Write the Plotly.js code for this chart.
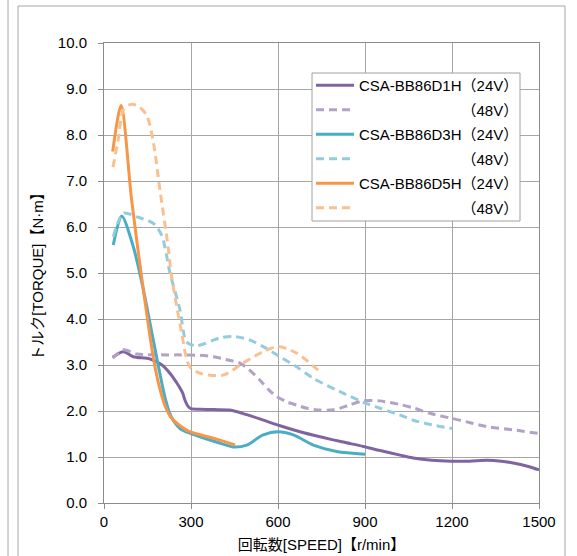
<!DOCTYPE html>
<html>
<head>
<meta charset="utf-8">
<script src="https://cdn.plot.ly/plotly-3.0.1.min.js"></script>
<style>html,body{margin:0;padding:0;background:#fff;}#chart{width:577px;height:556px;}</style>
</head>
<body>
<div id="chart"></div>
<script>
// ---- data (speed r/min, torque N·m) ----
const seriesNames = ["CSA-BB86D1H\uFF0824V\uFF09", "\u3000\u3000\u3000\u3000\u3000\u3000\u00A0\u00A0\u00A0\uFF0848V\uFF09",
                     "CSA-BB86D3H\uFF0824V\uFF09", "\u3000\u3000\u3000\u3000\u3000\u3000\u00A0\u00A0\u00A0\uFF0848V\uFF09",
                     "CSA-BB86D5H\uFF0824V\uFF09", "\u3000\u3000\u3000\u3000\u3000\u3000\u00A0\u00A0\u00A0\uFF0848V\uFF09"];

const d1h24_x = [30, 67, 101, 159, 200, 230, 250, 262, 272, 279, 290, 300, 331, 380, 434, 492, 550, 607, 676, 745, 820, 894, 952, 1021, 1066, 1130, 1199, 1260, 1320, 1370, 1411, 1460, 1500];
const d1h24_y = [3.17, 3.29, 3.18, 3.13, 3.0, 2.8, 2.62, 2.5, 2.38, 2.24, 2.1, 2.05, 2.04, 2.03, 2.02, 1.92, 1.8, 1.68, 1.55, 1.44, 1.33, 1.23, 1.14, 1.04, 0.98, 0.93, 0.91, 0.91, 0.93, 0.91, 0.87, 0.8, 0.72];

const d1h48_x = [30, 67, 113, 216, 262, 331, 377, 420, 469, 500, 538, 570, 596, 630, 664, 700, 745, 780, 814, 850, 894, 950, 1021, 1070, 1124, 1199, 1260, 1320, 1411, 1500];
const d1h48_y = [3.15, 3.33, 3.24, 3.22, 3.22, 3.21, 3.18, 3.12, 3.04, 2.9, 2.67, 2.45, 2.31, 2.2, 2.13, 2.06, 2.02, 2.02, 2.06, 2.14, 2.22, 2.22, 2.14, 2.06, 1.95, 1.84, 1.75, 1.66, 1.59, 1.51];

const d3h24_x = [32, 61, 101, 136, 170, 190, 210, 230, 262, 296, 331, 390, 445, 492, 549, 600, 653, 722, 802, 900];
const d3h24_y = [5.61, 6.24, 5.57, 4.63, 3.54, 2.9, 2.3, 1.9, 1.62, 1.52, 1.44, 1.32, 1.22, 1.26, 1.48, 1.55, 1.48, 1.26, 1.12, 1.06];

const d3h48_x = [32, 67, 113, 170, 199, 228, 262, 285, 320, 400, 445, 500, 549, 607, 664, 722, 814, 906, 952, 1021, 1066, 1130, 1200];
const d3h48_y = [5.79, 6.30, 6.22, 6.08, 5.82, 4.99, 4.2, 3.50, 3.42, 3.59, 3.62, 3.55, 3.40, 3.18, 2.96, 2.71, 2.42, 2.16, 2.06, 1.91, 1.80, 1.70, 1.62];

const d5h24_x = [30, 59, 95, 130, 170, 190, 210, 230, 262, 296, 376, 452];
const d5h24_y = [7.64, 8.64, 6.6, 4.9, 3.17, 2.55, 2.12, 1.87, 1.68, 1.55, 1.41, 1.26];

const d5h48_x = [31, 49, 67, 95, 120, 147, 169, 193, 221, 233, 250, 268, 283, 296, 331, 411, 479, 549, 600, 664, 745];
const d5h48_y = [7.30, 7.9, 8.55, 8.67, 8.62, 8.43, 7.89, 6.8, 5.57, 4.92, 4.3, 3.69, 3.18, 2.96, 2.82, 2.78, 3.04, 3.29, 3.40, 3.26, 2.85];

const xTicks = [0, 300, 600, 900, 1200, 1500];
const yTicks = [0, 1, 2, 3, 4, 5, 6, 7, 8, 9, 10];

const colors = ["#8064a2", "#b3a2c7", "#4bacc6", "#93cddd", "#f79646", "#fac090"];

const xs = [d1h24_x, d1h48_x, d3h24_x, d3h48_x, d5h24_x, d5h48_x];
const ys = [d1h24_y, d1h48_y, d3h24_y, d3h48_y, d5h24_y, d5h48_y];

const traces = xs.map((x, i) => ({
  type: "scatter", mode: "lines", x: x, y: ys[i], name: seriesNames[i],
  legendgroup: "g" + i,
  line: {color: colors[i], width: 3, shape: "spline", smoothing: 0.8, dash: (i % 2 === 1) ? "8px,5px" : "solid"},
  hoverinfo: "skip"
}));

const font = "Liberation Sans, Arial, Noto Sans CJK JP, sans-serif";
const px2x = p => (p - 104) / 435;
const px2y = p => (503 - p) / 460;

const layout = {
  width: 577, height: 556,
  margin: {l: 104, r: 38, t: 43, b: 53},
  paper_bgcolor: "#ffffff", plot_bgcolor: "#ffffff",
  font: {family: font, size: 15, color: "#000"},
  showlegend: true,
  legend: {
    x: px2x(311), y: px2y(69), xanchor: "left", yanchor: "top",
    bgcolor: "rgba(0,0,0,0)", borderwidth: 0,
    font: {family: font, size: 15, color: "#000"},
    tracegroupgap: 2, itemwidth: 38
  },
  xaxis: {
    range: [0, 1500], tickvals: xTicks, ticktext: xTicks.map(String),
    showgrid: true, gridcolor: "#a6a6a6", gridwidth: 1, zeroline: false,
    showline: true, linecolor: "#8c8c8c", linewidth: 1, mirror: true,
    ticks: "outside", ticklen: 5, tickcolor: "#8c8c8c",
    tickfont: {size: 15}, fixedrange: true,
    title: {text: "回転数[SPEED]【r/min】", font: {size: 15}, standoff: 10}
  },
  yaxis: {
    range: [0, 10], tickvals: yTicks, ticktext: yTicks.map(v => v.toFixed(1)),
    showgrid: true, gridcolor: "#a6a6a6", gridwidth: 1, zeroline: false,
    showline: true, linecolor: "#8c8c8c", linewidth: 1, mirror: true,
    ticks: "outside", ticklen: 5, tickcolor: "#8c8c8c", ticklabelstandoff: 8,
    tickfont: {size: 15}, fixedrange: true,
    title: {text: "トルク[TORQUE]【N·m】", font: {size: 15}, standoff: 10}
  },
  shapes: [
    {type: "line", xref: "paper", yref: "paper", x0: px2x(8), x1: px2x(8), y0: px2y(600), y1: px2y(-5), line: {color: "#a6a6a6", width: 1}},
    {type: "rect", xref: "paper", yref: "paper", x0: px2x(18), x1: px2x(565), y0: px2y(600), y1: px2y(6), line: {color: "#a6a6a6", width: 1}, layer: "below"},
    {type: "rect", xref: "paper", yref: "paper", x0: px2x(312), x1: px2x(520), y0: px2y(221), y1: px2y(73), fillcolor: "#ffffff", line: {color: "#a0a0a0", width: 1}, layer: "above"}
  ]
};

Plotly.newPlot("chart", traces, layout, {displayModeBar: false, staticPlot: true});
</script>
</body>
</html>
